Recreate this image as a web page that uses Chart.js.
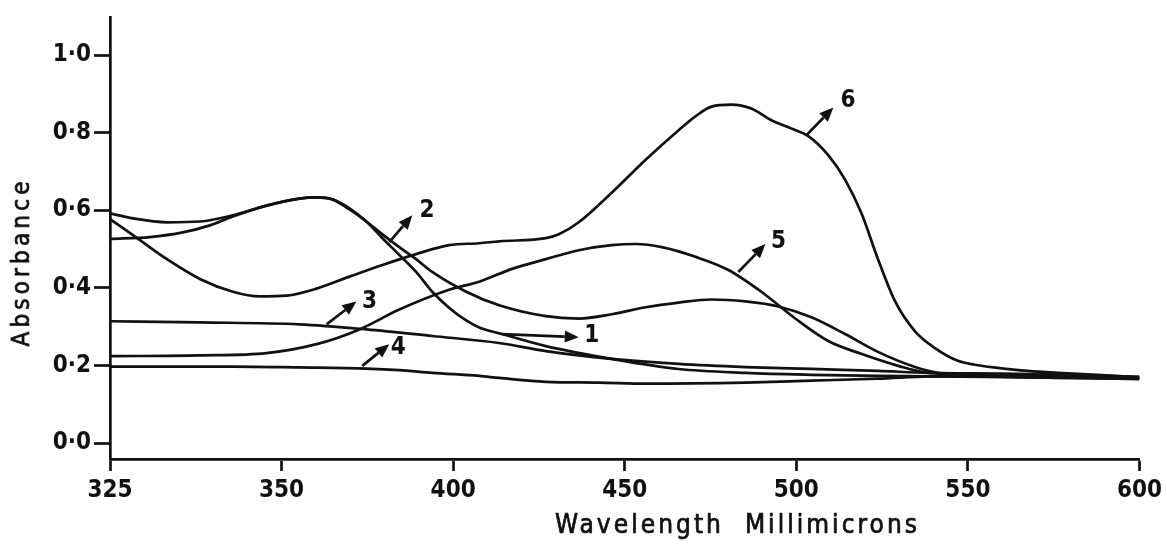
<!DOCTYPE html>
<html>
<head>
<meta charset="utf-8">
<script src="https://cdn.jsdelivr.net/npm/chart.js@4.4.1/dist/chart.umd.min.js"></script>
<style>
  html, body { margin: 0; padding: 0; background: #ffffff; }
  #wrap { width: 1167px; height: 550px; position: relative; }
</style>
</head>
<body>
<div id="wrap"><canvas id="c" width="1167" height="550"></canvas></div>
<script>
// ---- axis ticks ----
const xTickValues = [300, 350, 400, 450, 500, 550, 600];
const xTickLabels = ['325', '350', '400', '450', '500', '550', '600'];
const yTickValues = [0.0, 0.2, 0.4, 0.6, 0.8, 1.0];

// ---- curve 1 ----
const wl1 = [300, 311.6, 321.2, 329.1, 335.8, 345.6, 355.2, 360.2, 364.8, 369.8, 374.7, 379.4, 384.3, 389.2, 393.9, 398.8, 403.8, 407.6, 414.2, 427.0, 446.2, 465.7, 485.2, 504.4, 523.8, 538.4, 560, 580, 600];
const abs1 = [0.526, 0.531, 0.543, 0.561, 0.584, 0.612, 0.630, 0.633, 0.628, 0.605, 0.571, 0.528, 0.485, 0.441, 0.390, 0.349, 0.316, 0.298, 0.281, 0.250, 0.217, 0.191, 0.181, 0.176, 0.173, 0.172, 0.170, 0.168, 0.166];

// ---- curve 2 ----
const wl2 = [300, 306.7, 316.6, 326.2, 335.8, 345.6, 355.2, 360.2, 364.8, 369.8, 374.7, 379.4, 384.3, 389.2, 393.9, 403.8, 413.4, 427.0, 436.6, 446.2, 456.1, 465.7, 475.3, 485.2, 494.8, 504.4, 514.2, 523.8, 534.6, 541.3, 560, 580, 600];
const abs2 = [0.592, 0.579, 0.569, 0.571, 0.587, 0.612, 0.630, 0.633, 0.628, 0.602, 0.571, 0.538, 0.505, 0.474, 0.441, 0.390, 0.355, 0.327, 0.321, 0.332, 0.350, 0.362, 0.370, 0.365, 0.352, 0.324, 0.281, 0.235, 0.196, 0.181, 0.171, 0.168, 0.165];

// ---- curve 3 ----
const wl3 = [300, 326.2, 355.2, 374.7, 393.9, 413.4, 427.0, 446.2, 465.7, 485.2, 504.4, 523.8, 538.4, 560, 580, 600];
const abs3 = [0.314, 0.311, 0.306, 0.293, 0.276, 0.258, 0.237, 0.217, 0.204, 0.196, 0.191, 0.186, 0.181, 0.179, 0.176, 0.171];

// ---- curve 4 ----
const wl4 = [300, 335.8, 355.2, 374.7, 384.3, 393.9, 407.6, 413.4, 427.0, 442.4, 456.1, 485.2, 504.4, 523.8, 538.4, 560, 580, 600];
const abs4 = [0.197, 0.197, 0.195, 0.192, 0.188, 0.181, 0.173, 0.168, 0.158, 0.156, 0.153, 0.156, 0.161, 0.166, 0.172, 0.174, 0.171, 0.168];

// ---- curve 5 ----
const wl5 = [300, 326.2, 345.6, 360.2, 372.7, 384.3, 398.8, 407.6, 417.2, 427.0, 436.6, 446.2, 453.2, 460.8, 470.6, 480.2, 489.8, 499.7, 509.3, 518.9, 529.7, 538.4, 560, 580, 600];
const abs5 = [0.224, 0.226, 0.232, 0.255, 0.293, 0.344, 0.395, 0.416, 0.449, 0.474, 0.497, 0.510, 0.513, 0.505, 0.480, 0.446, 0.390, 0.321, 0.263, 0.230, 0.199, 0.181, 0.176, 0.173, 0.170];

// ---- curve 6 ----
const wl6 = [300, 306.7, 316.6, 326.2, 335.8, 343.6, 351.5, 360.2, 369.8, 379.4, 389.2, 398.8, 407.6, 413.4, 427.0, 430.8, 436.6, 446.2, 456.1, 465.7, 470.6, 475.3, 481.1, 486.9, 492.7, 498.5, 503.5, 509.3, 514.2, 518.9, 523.8, 528.8, 534.6, 540.4, 547.1, 552.0, 558.7, 567.4, 576.2, 587.8, 600];
const abs6 = [0.577, 0.536, 0.474, 0.423, 0.390, 0.378, 0.380, 0.398, 0.429, 0.459, 0.487, 0.510, 0.515, 0.520, 0.528, 0.538, 0.569, 0.645, 0.730, 0.806, 0.842, 0.867, 0.872, 0.862, 0.832, 0.811, 0.791, 0.742, 0.679, 0.594, 0.474, 0.365, 0.288, 0.245, 0.212, 0.202, 0.194, 0.186, 0.181, 0.176, 0.169];

// ---- curve labels with arrows ----
const arrowLabels = ['1', '2', '3', '4', '5', '6'];
const arrowFromX  = [414.2, 381.4, 363.1, 373.5, 483.1, 502.9];
const arrowFromY  = [0.281, 0.518, 0.306, 0.199, 0.441, 0.793];
const arrowToX    = [436.6, 388.1, 371.8, 381.4, 491.0, 510.8];
const arrowToY    = [0.273, 0.587, 0.365, 0.255, 0.513, 0.865];
const labelX      = [440.4, 392.4, 375.6, 384.0, 494.8, 515.1];
const labelY      = [0.276, 0.599, 0.365, 0.245, 0.520, 0.883];

const FONT = "'DejaVu Sans Condensed', 'DejaVu Sans', sans-serif";

function series(xs, ys) { return xs.map((v, i) => ({ x: v, y: ys[i] })); }
function ds(xs, ys) {
  return {
    data: series(xs, ys),
    borderColor: '#111111',
    borderWidth: 2.7,
    pointRadius: 0,
    fill: false,
    cubicInterpolationMode: 'monotone'
  };
}

// draws text so that it spans a given width (letter-spaced like the original lettering)
function spacedText(ctx, text, cx, cy, width) {
  ctx.letterSpacing = '0px';
  const w0 = ctx.measureText(text).width;
  const sp = Math.max(0, (width - w0) / (text.length - 1));
  ctx.letterSpacing = sp + 'px';
  ctx.fillText(text, cx + sp / 2, cy);
  ctx.strokeText(text, cx + sp / 2, cy);
  ctx.letterSpacing = '0px';
}

const annotPlugin = {
  id: 'annot',
  afterDatasetsDraw(chart) {
    const { ctx } = chart;
    const xs = chart.scales.x, ys = chart.scales.y;
    ctx.save();
    ctx.strokeStyle = '#111111';
    ctx.fillStyle = '#111111';
    ctx.lineWidth = 2.7;
    ctx.lineCap = 'butt';
    for (let i = 0; i < arrowLabels.length; i++) {
      const x0 = xs.getPixelForValue(arrowFromX[i]);
      const y0 = ys.getPixelForValue(arrowFromY[i]);
      const x1 = xs.getPixelForValue(arrowToX[i]);
      const y1 = ys.getPixelForValue(arrowToY[i]);
      const ang = Math.atan2(y1 - y0, x1 - x0);
      const hl = 14, hw = 6;
      const bx = x1 - hl * Math.cos(ang), by = y1 - hl * Math.sin(ang);
      ctx.beginPath();
      ctx.moveTo(x0, y0);
      ctx.lineTo(bx, by);
      ctx.stroke();
      ctx.beginPath();
      ctx.moveTo(x1, y1);
      ctx.lineTo(bx + hw * Math.sin(ang), by - hw * Math.cos(ang));
      ctx.lineTo(bx - hw * Math.sin(ang), by + hw * Math.cos(ang));
      ctx.closePath();
      ctx.fill();
      ctx.font = 'bold 24px ' + FONT;
      ctx.textAlign = 'center';
      ctx.textBaseline = 'middle';
      ctx.fillText(arrowLabels[i], xs.getPixelForValue(labelX[i]), ys.getPixelForValue(labelY[i]));
    }
    // axis titles (medium weight: fill plus a thin outline)
    ctx.lineWidth = 0.7;
    ctx.lineJoin = 'round';
    ctx.font = '26px ' + FONT;
    ctx.textAlign = 'center';
    ctx.textBaseline = 'middle';
    spacedText(ctx, 'Wavelength  Millimicrons', 736, 526, 362);
    ctx.translate(23, 264);
    ctx.rotate(-Math.PI / 2);
    ctx.font = '24px ' + FONT;
    spacedText(ctx, 'Absorbance', 0, 0, 165);
    ctx.restore();
  }
};

new Chart(document.getElementById('c'), {
  type: 'line',
  data: {
    datasets: [ds(wl1, abs1), ds(wl2, abs2), ds(wl3, abs3), ds(wl4, abs4), ds(wl5, abs5), ds(wl6, abs6)]
  },
  options: {
    responsive: false,
    animation: false,
    events: [],
    layout: { padding: { top: 13, right: 25, left: 0, bottom: 0 } },
    plugins: { legend: { display: false }, tooltip: { enabled: false }, title: { display: false } },
    scales: {
      x: {
        type: 'linear',
        min: 300,
        max: 600,
        afterBuildTicks: (s) => { s.ticks = xTickValues.map(v => ({ value: v })); },
        afterFit: (s) => { s.height = 91; },
        ticks: {
          autoSkip: false,
          maxRotation: 0,
          color: '#111111',
          padding: 5,
          font: { family: FONT, size: 24, weight: 'bold' },
          callback: (v) => xTickLabels[xTickValues.indexOf(v)]
        },
        grid: { drawOnChartArea: false, drawTicks: true, tickLength: 12, tickColor: '#111111', tickWidth: 2.7 },
        border: { display: true, color: '#111111', width: 2.7 }
      },
      y: {
        type: 'linear',
        min: -0.041,
        max: 1.097,
        afterBuildTicks: (s) => { s.ticks = yTickValues.map(v => ({ value: v })); },
        afterFit: (s) => { s.width = 110; },
        ticks: {
          color: '#111111',
          padding: 3,
          font: { family: FONT, size: 24, weight: 'bold' },
          callback: (v) => v.toFixed(1).replace('.', '\u00B7')
        },
        grid: { drawOnChartArea: false, drawTicks: true, tickLength: 16, tickColor: '#111111', tickWidth: 2.7 },
        border: { display: true, color: '#111111', width: 2.7 }
      }
    }
  },
  plugins: [annotPlugin]
});
</script>
</body>
</html>
